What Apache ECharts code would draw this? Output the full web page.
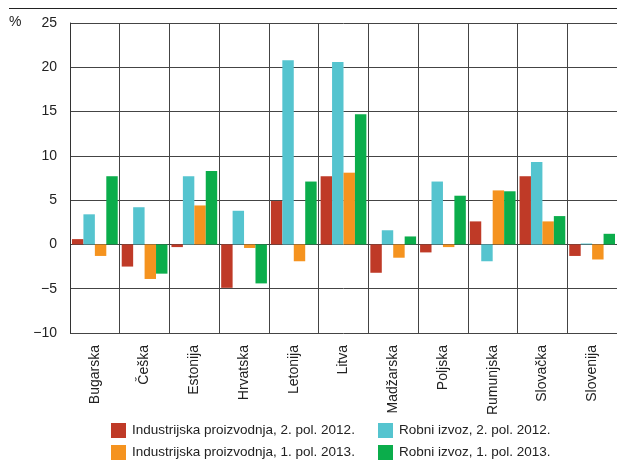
<!DOCTYPE html>
<html><head><meta charset="utf-8">
<script src="https://cdn.jsdelivr.net/npm/echarts@6/dist/echarts.min.js"></script>
<style>html,body{margin:0;padding:0;background:#fff}#c{width:617px;height:461px}</style>
</head><body><div id="c"></div>
<script>
const categories = ['Bugarska','Češka','Estonija','Hrvatska','Letonija','Litva','Madžarska','Poljska','Rumunjska','Slovačka','Slovenija'];
const seriesNames = ['Industrijska proizvodnja, 2. pol. 2012.','Robni izvoz, 2. pol. 2012.','Industrijska proizvodnja, 1. pol. 2013.','Robni izvoz, 1. pol. 2013.'];
const indProd2012 = [0.6,-2.5,-0.3,-4.9,4.9,7.7,-3.2,-0.9,2.6,7.7,-1.3];
const export2012  = [3.4,4.2,7.7,3.8,20.8,20.6,1.6,7.1,-1.9,9.3,0.1];
const indProd2013 = [-1.3,-3.9,4.4,-0.4,-1.9,8.1,-1.5,-0.3,6.1,2.6,-1.7];
const export2013  = [7.7,-3.3,8.3,-4.4,7.1,14.7,0.9,5.5,6.0,3.2,1.2];
const yTicks = [-10,-5,0,5,10,15,20,25];
const colors = ['#BF3A27','#55C4CF','#F5931F','#0BAD4B'];
const font = '"Liberation Sans Narrow","Arial Narrow","Liberation Sans",Arial,sans-serif';

const chart = echarts.init(document.getElementById('c'), null, {renderer:'canvas'});
const dataArr = [indProd2012, export2012, indProd2013, export2013];
const legendPos = [[111,423],[378,423],[111,445],[378,445]];
chart.setOption({
  animation:false,
  grid:{left:70, top:23, width:552, height:310, containLabel:false},
  graphic:[
    {type:'line', shape:{x1:9,y1:8.5,x2:617,y2:8.5}, style:{stroke:'#222',lineWidth:1.2}},
    {type:'text', left:9, top:15, style:{text:'%', font:'14px '+font, fill:'#222'}}
  ],
  legend: seriesNames.map((n,i)=>({data:[n], left:legendPos[i][0], top:legendPos[i][1], padding:0,
     itemWidth:15, itemHeight:15, itemGap:5, icon:'rect',
     textStyle:{fontFamily:font, fontSize:13.5, color:'#222', padding:[0,0,0,1]}})),
  xAxis:{type:'category', data:categories,
    axisLine:{show:false}, axisTick:{show:false},
    splitLine:{show:true, lineStyle:{color:'#444', width:1}},
    axisLabel:{rotate:90, margin:12, fontFamily:font, fontSize:14, color:'#222', interval:0}},
  yAxis:{type:'value', min:-10, max:25, interval:5,
    axisLine:{show:true, lineStyle:{color:'#333', width:1}}, axisTick:{show:false},
    splitLine:{show:true, lineStyle:{color:'#444', width:1}},
    axisLabel:{margin:13, fontFamily:font, fontSize:14, color:'#222',
      formatter:v=> yTicks.includes(v) ? (v<0?'\u2212'+Math.abs(v):String(v)) : ''}},
  series: seriesNames.map((n,i)=>({name:n, type:'bar', data:dataArr[i], barGap:'0%', barCategoryGap:'8%',
    itemStyle:{color:colors[i]}}))
});
</script></body></html>
